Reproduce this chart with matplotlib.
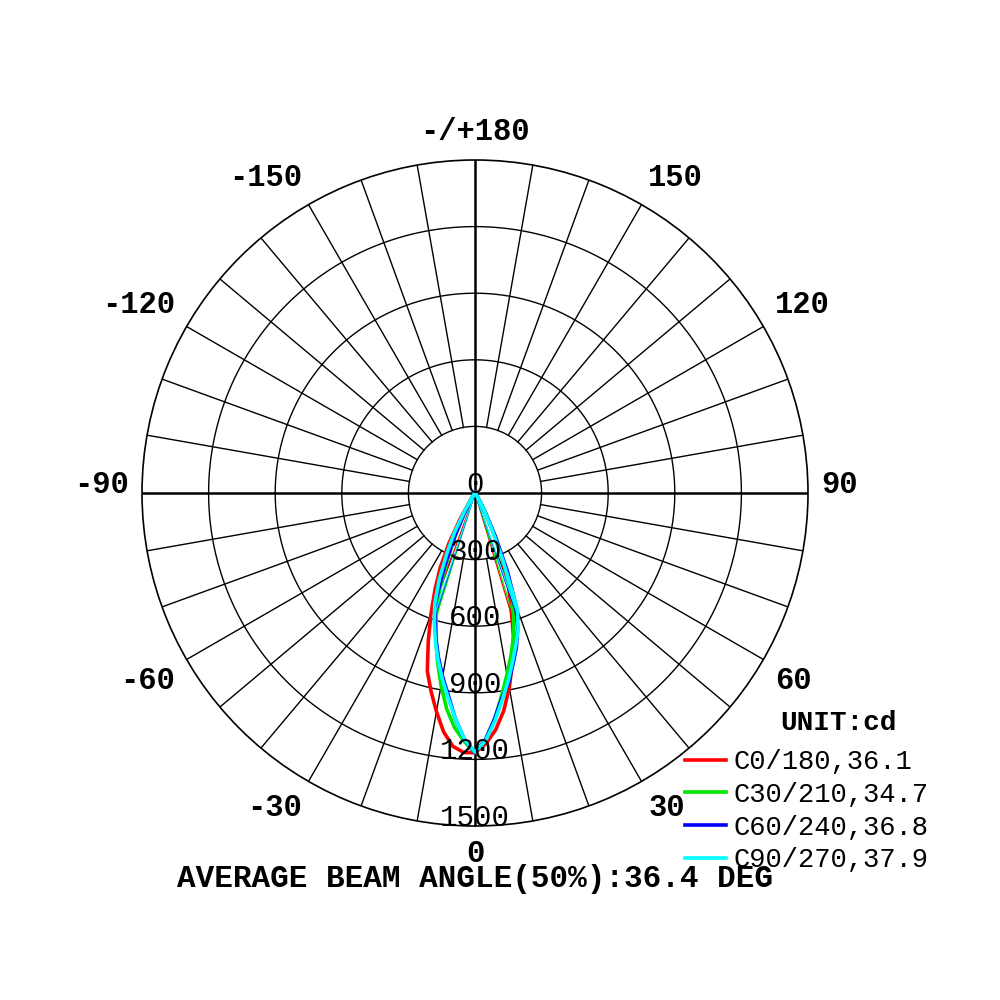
import numpy as np
import matplotlib
matplotlib.use("Agg")
import matplotlib.pyplot as plt

plt.rcParams['font.family'] = ['Liberation Mono', 'DejaVu Sans Mono']

# gamma angles (deg) and intensity (cd) for each half of the C-planes
gamma = [0, 2.5, 5, 7.5, 10, 12.5, 15, 17.5, 20, 22.5, 25, 27.5, 30, 35, 40, 90]

c0 = [1170, 1130, 1070, 990, 890, 780, 670, 540, 440, 320, 190, 100, 40, 0, 0, 0]
c180 = [1170, 1170, 1145, 1085, 1000, 915, 830, 700, 580, 470, 370, 250, 130, 20, 0, 0]
c30 = [1170, 1110, 1020, 920, 830, 750, 670, 580, 490, 340, 200, 100, 40, 10, 0, 0]
c210 = [1170, 1120, 1060, 980, 880, 780, 680, 580, 470, 320, 200, 110, 50, 10, 0, 0]
c60 = [1170, 1110, 1020, 930, 870, 790, 720, 640, 540, 380, 220, 110, 50, 10, 0, 0]
c240 = [1170, 1110, 1020, 920, 840, 760, 680, 600, 520, 360, 220, 110, 50, 10, 0, 0]
c90 = [1167, 1115, 1030, 940, 860, 780, 710, 645, 560, 330, 180, 100, 50, 10, 0, 0]
c270 = [1167, 1110, 1020, 930, 850, 770, 690, 610, 530, 420, 300, 200, 90, 20, 0, 0]

labels = ['C0/180,36.1', 'C30/210,34.7', 'C60/240,36.8', 'C90/270,37.9']
colors = ['#ff0000', '#00e600', '#0000ff', '#00ffff']
planes = [(c0, c180), (c30, c210), (c60, c240), (c90, c270)]

rings = [300, 600, 900, 1200, 1500]
angle_ticks = [0, 30, 60, 90, 120, 150, 180, -150, -120, -90, -60, -30]
angle_names = ['0', '30', '60', '90', '120', '150', '-/+180',
               '-150', '-120', '-90', '-60', '-30']
avg_beam = 36.4


def half_angle(g, vals):
    # angle where the intensity first drops below half of the peak
    half = vals[0] / 2.0
    for i in range(1, len(vals)):
        if vals[i] < half:
            t = (vals[i - 1] - half) / (vals[i - 1] - vals[i])
            return g[i - 1] + t * (g[i] - g[i - 1])
    return g[-1]


fig = plt.figure(figsize=(10, 10), dpi=100)
ax = fig.add_axes([0.142, 0.174, 0.666, 0.666], projection='polar')
ax.set_theta_zero_location('S')
ax.set_theta_direction(1)
ax.set_ylim(0, rings[-1])
ax.grid(False)
ax.set_xticks([])
ax.set_yticks([])
ax.spines['polar'].set_linewidth(1.2)

# grid circles
th = np.linspace(0, 2 * np.pi, 721)
for r in rings[:-1]:
    ax.plot(th, np.full_like(th, r), color='black', lw=1.0, zorder=1)

# radial lines every 10 deg
for a in range(0, 360, 10):
    t = np.deg2rad(a)
    if a % 90 == 0:
        ax.plot([t, t], [0, rings[-1]], color='black', lw=1.8, zorder=1)
    else:
        ax.plot([t, t], [rings[0], rings[-1]], color='black', lw=1.0, zorder=1)

# curves
g = np.array(gamma)
handles = []
for (right, left), col, lab in zip(planes, colors, labels):
    theta = np.deg2rad(np.concatenate([-g[::-1], g[1:]]))
    rr = np.concatenate([np.array(left)[::-1], np.array(right)[1:]])
    ln, = ax.plot(theta, rr, color=col, lw=2.6, zorder=3, label=lab)
    handles.append(ln)
    # beam angle (50%) markers
    for side, vals in ((1, right), (-1, left)):
        ha_ = np.deg2rad(side * half_angle(gamma, vals))
        ax.plot([ha_, ha_], [0, vals[0] / 2.0], color=col, lw=0.9, zorder=3)

# ring labels
for r in [0] + rings:
    ax.text(0, r, str(r), ha='center', va='baseline', fontsize=21, zorder=4)

# angle labels
for a, name in zip(angle_ticks, angle_names):
    t = np.deg2rad(a)
    s = np.sin(t)
    c = np.cos(t)
    if abs(s) < 0.01:
        ha = 'center'
    elif s > 0:
        ha = 'left'
    else:
        ha = 'right'
    if abs(c) < 0.01:
        va = 'baseline'
    elif c > 0:
        va = 'top'
    else:
        va = 'bottom'
    ax.text(t, 1560, name, ha=ha, va=va, fontsize=22, fontweight='bold',
            clip_on=False)

fig.text(0.475, 0.121, 'AVERAGE BEAM ANGLE(50%%):%.1f DEG' % avg_beam,
         ha='center', va='center', fontsize=22.3, fontweight='bold')
fig.text(0.838, 0.277, 'UNIT:cd', ha='center', va='center',
         fontsize=20, fontweight='bold')

ax.legend(handles=handles, loc='upper left', bbox_to_anchor=(0.685, 0.251),
          bbox_transform=fig.transFigure, frameon=False,
          prop={'family': 'Liberation Mono', 'size': 19.5},
          handlelength=1.5, handletextpad=0.3, labelspacing=0.25,
          borderpad=0, borderaxespad=0)

fig.savefig('out.png', dpi=100, facecolor='white')
